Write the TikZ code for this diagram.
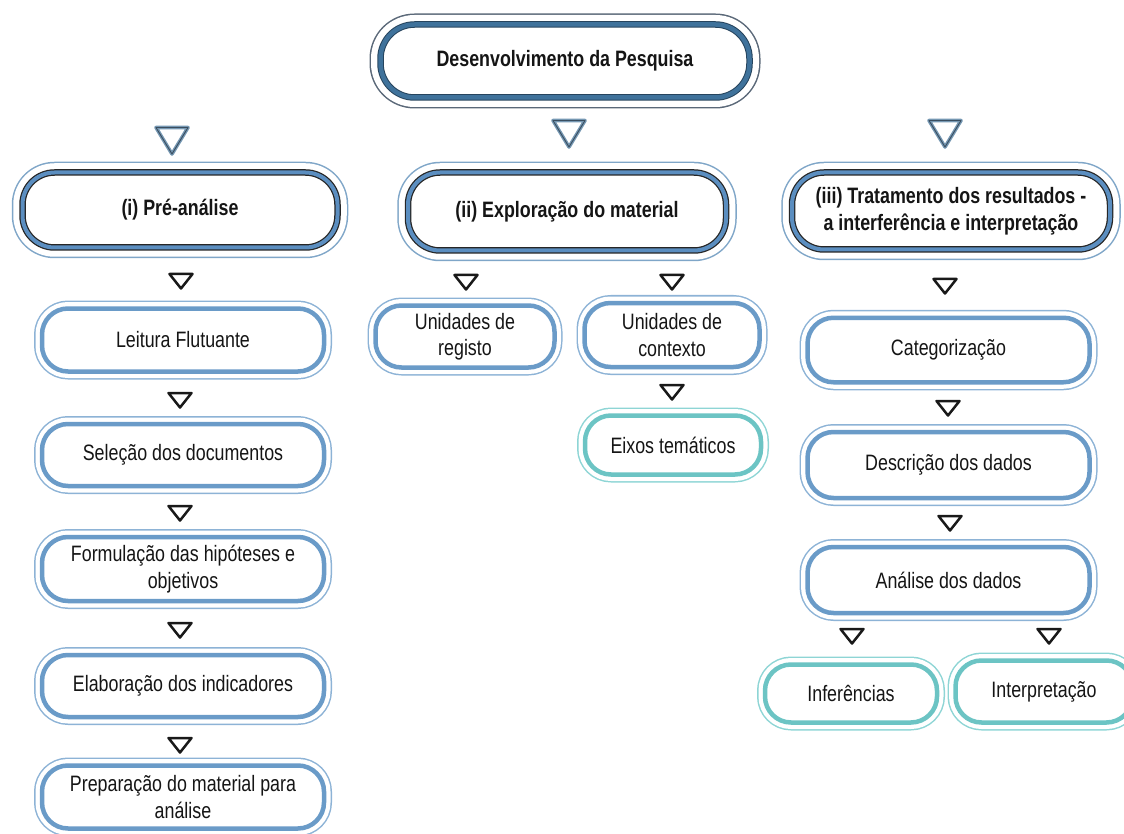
\documentclass[tikz,border=0pt]{standalone}
\usepackage{fontspec}
\setmainfont{Liberation Sans}[FakeStretch=0.8]
\definecolor{txt}{HTML}{151515}
\definecolor{regblue}{HTML}{6A9BC8}
\definecolor{regring}{HTML}{8DB3D6}
\definecolor{tealc}{HTML}{6CC4C4}
\definecolor{tealring}{HTML}{8ED5D5}
\definecolor{lvlblue}{HTML}{5B8EC0}
\definecolor{lvlring}{HTML}{7FA6C8}
\definecolor{topblue}{HTML}{3F729B}
\definecolor{topring}{HTML}{5A6878}
\definecolor{bigtri}{HTML}{7597B2}
\definecolor{bigtriin}{HTML}{3A4E60}
\begin{document}
\begin{tikzpicture}[x=1pt,y=-1pt,
  every node/.style={font=\fontsize{22.3}{26.5}\selectfont, align=center, inner sep=0pt, text=txt},
  reg/.style={rounded corners=26, line join=round,
    preaction={draw=regring, line width=16},
    preaction={draw=white, line width=13},
    fill=white, draw=regblue, line width=4.5},
  tealbox/.style={rounded corners=26, line join=round,
    preaction={draw=tealring, line width=16},
    preaction={draw=white, line width=13},
    fill=white, draw=tealc, line width=4.5},
  lvl/.style={rounded corners=32, line join=round,
    preaction={draw=lvlring, line width=21.5},
    preaction={draw=white, line width=18.5},
    preaction={fill=white},
    preaction={draw=black!85, line width=6.5},
    draw=lvlblue, line width=4,
    font=\bfseries\fontsize{22.3}{26.5}\selectfont},
  topbox/.style={rounded corners=34, line join=round,
    preaction={draw=topring, line width=22},
    preaction={draw=white, line width=19},
    preaction={fill=white},
    preaction={draw=topblue!60!black, line width=6.5},
    draw=topblue, line width=4.5,
    font=\bfseries\fontsize{22.3}{26.5}\selectfont},
  stri/.pic={\draw[line width=2.5, line join=round, draw=black!90]
      (-11.5,-7) -- (11.5,-7) -- (0,7.5) -- cycle;},
  btri/.pic={\draw[line width=3.6, line join=round, draw=bigtri]
      (-16,-12.5) -- (16,-12.5) -- (0,14) -- cycle;
    \draw[line width=0.9, line join=round, draw=bigtriin]
      (-16,-12.5) -- (16,-12.5) -- (0,14) -- cycle;}
]
\useasboundingbox (0,0) rectangle (1124,834);

% top
\node[topbox, minimum width=369, minimum height=73] (top) at (565,61) {Desenvolvimento da Pesquisa};

% big triangles
\pic at (172,140) {btri};
\pic at (569,133) {btri};
\pic at (945,133) {btri};

% level 1
\node[lvl, minimum width=315, minimum height=75] (p1) at (180,210) {(i) Pré-análise};
\node[lvl, minimum width=318, minimum height=78] (p2) at (567,211.5) {(ii) Exploração do material};
\node[lvl, minimum width=318, minimum height=77] (p3) at (951,211) {(iii) Tratamento dos resultados -\\a interferência e interpretação};

% left column
\node[reg, minimum width=282, minimum height=63] (l1) at (183,340) {Leitura Flutuante};
\node[reg, minimum width=282, minimum height=62] (l2) at (183,455) {Seleção dos documentos};
\node[reg, minimum width=282, minimum height=64] (l3) at (183,569) {Formulação das hipóteses e\\objetivos};
\node[reg, minimum width=282, minimum height=62] (l4) at (183,686) {Elaboração dos indicadores};
\node[reg, minimum width=282, minimum height=63] (l5) at (183,797) {Preparação do material para\\análise};

\pic at (181,281) {stri};
\pic at (180,400) {stri};
\pic at (180,513) {stri};
\pic at (180,630) {stri};
\pic at (180,745) {stri};

% middle column
\node[reg, minimum width=179, minimum height=62] (m1) at (465,336.5) {Unidades de\\registo};
\node[reg, minimum width=175, minimum height=64] (m2) at (672,335) {Unidades de\\contexto};
\node[tealbox, minimum width=176, minimum height=59] (m3) at (673,445) {Eixos temáticos};

\pic at (466,282) {stri};
\pic at (672,282) {stri};
\pic at (672,392) {stri};

% right column
\node[reg, minimum width=282, minimum height=64.5] (r1) at (948.5,350) {Categorização};
\node[reg, minimum width=282, minimum height=66] (r2) at (948.5,465) {Descrição dos dados};
\node[reg, minimum width=282, minimum height=66] (r3) at (948.5,580) {Análise dos dados};
\node[tealbox, minimum width=172, minimum height=58] (r4) at (851,693.5) {Inferências};
\node[tealbox, minimum width=177, minimum height=62] (r5) at (1044,691.5) {Interpretação};

\pic at (945,286) {stri};
\pic at (948,408) {stri};
\pic at (950,523) {stri};
\pic at (852,636) {stri};
\pic at (1049,636) {stri};
\end{tikzpicture}
\end{document}
